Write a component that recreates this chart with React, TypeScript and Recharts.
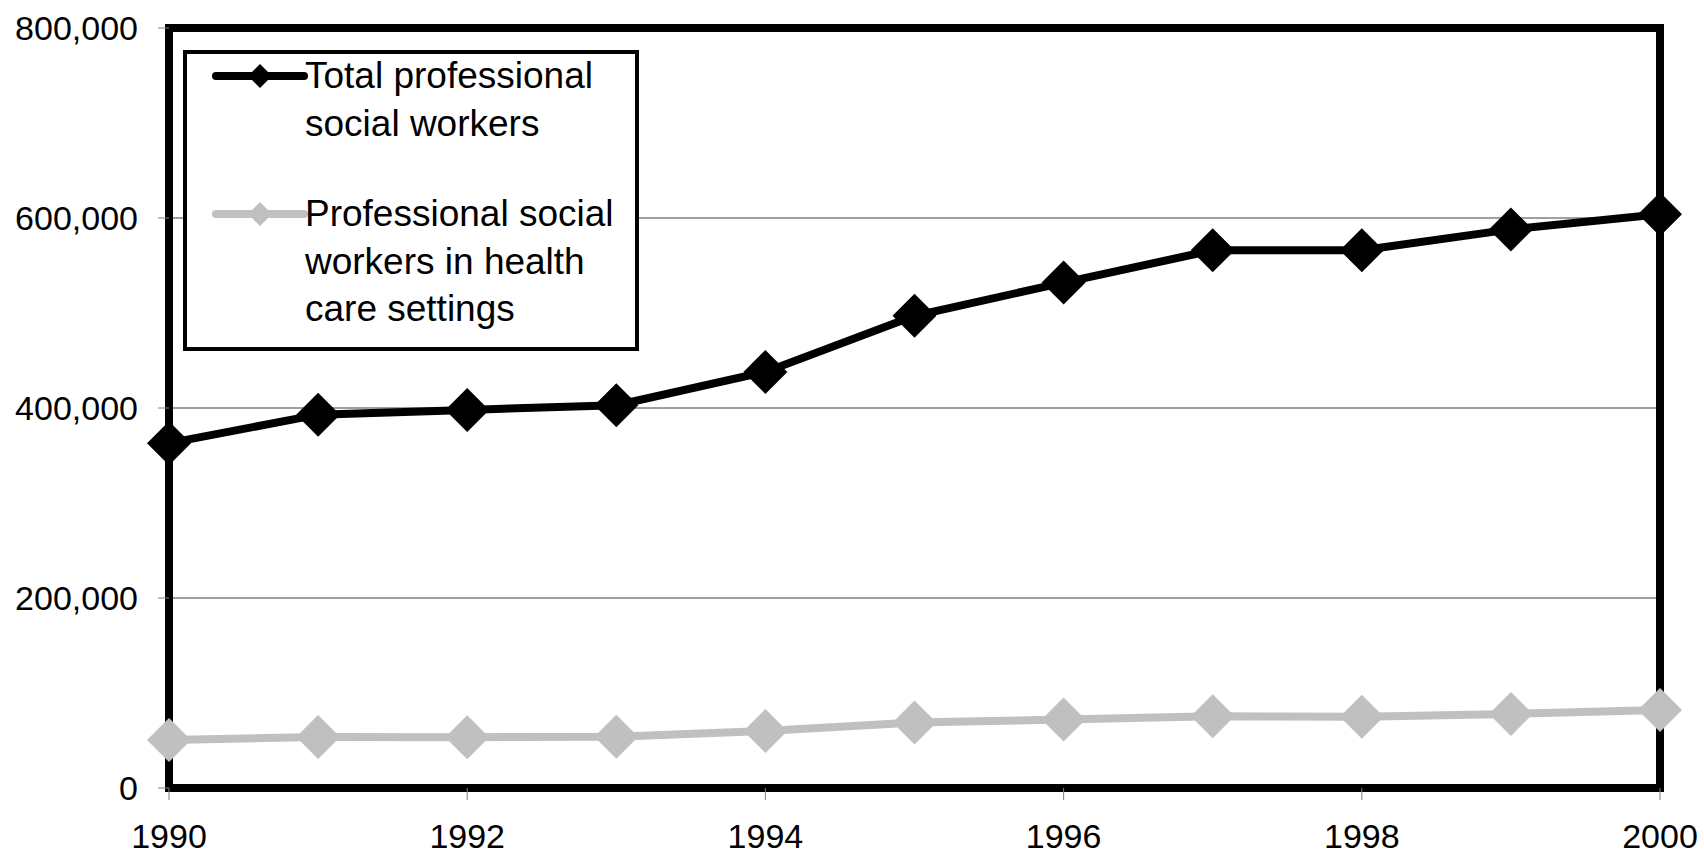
import React from 'react';
import {
    LineChart,
    Line,
    XAxis,
    YAxis,
    CartesianGrid,
    ReferenceArea
} from 'recharts';

const years = [1990, 1991, 1992, 1993, 1994, 1995, 1996, 1997, 1998, 1999, 2000];
const totalWorkers = [363000, 393000, 398000, 403000, 438000, 497000, 532000, 566000, 566000, 588000, 604000];
const healthCareWorkers = [50500, 53700, 53500, 54000, 60000, 69000, 72000, 75500, 75000, 78000, 82000];

const xTicks = [1990, 1992, 1994, 1996, 1998, 2000];
const yTicks = [0, 200000, 400000, 600000, 800000];

const totalLabel = ['Total professional', 'social workers'];
const healthLabel = ['Professional social', 'workers in health', 'care settings'];

const FONT = '"Liberation Sans", Arial, sans-serif';
const BLACK = '#000000';
const GRAY = '#C0C0C0';

const data = years.map((year, i) => ({
    year,
    total: totalWorkers[i],
    health: healthCareWorkers[i]
}));

// filled diamond marker, the same shape is reused in the legend
const diamond = (cx: number, cy: number, r: number) =>
    `${cx},${cy - r} ${cx + r},${cy} ${cx},${cy + r} ${cx - r},${cy}`;

const makeDot = (color: string) => (props: any) => {
    const { cx, cy, index } = props;
    if (cx == null || cy == null) return <g key={`e-${index}`} />;
    return <polygon key={`d-${index}`} points={diamond(cx, cy, 22)} fill={color} />;
};

const LegendMarker: React.FC<{ color: string }> = ({ color }) => (
    <svg width={96} height={30} style={{ position: 'absolute', left: 25, top: -15 }}>
        <line x1={4} y1={15} x2={92} y2={15} stroke={color} strokeWidth={8} strokeLinecap="round" />
        <polygon points={diamond(48, 15, 12)} fill={color} />
    </svg>
);

const ChartLegend: React.FC = () => {
    const lineHeight = 47.5;
    const rows: { text: string; marker?: string }[] = [
        { text: totalLabel[0], marker: BLACK },
        { text: totalLabel[1] },
        { text: '' },
        { text: healthLabel[0], marker: GRAY },
        { text: healthLabel[1] },
        { text: healthLabel[2] }
    ];
    return (
        <div
            style={{
                position: 'absolute',
                left: 183,
                top: 50,
                width: 448,
                height: 293,
                border: '4px solid #000',
                background: '#fff',
                fontFamily: FONT,
                fontSize: 37,
                color: '#000'
            }}
        >
            {rows.map((row, i) => {
                const center = 22 + i * lineHeight - (i >= 3 ? 4.5 : 0);
                return (
                    <div key={i} style={{ position: 'absolute', left: 0, top: center, width: '100%' }}>
                        {row.marker && <LegendMarker color={row.marker} />}
                        <span
                            style={{
                                position: 'absolute',
                                left: 118,
                                top: -lineHeight / 2,
                                lineHeight: `${lineHeight}px`,
                                whiteSpace: 'nowrap'
                            }}
                        >
                            {row.text}
                        </span>
                    </div>
                );
            })}
        </div>
    );
};

const App: React.FC = () => {
    const tickStyle = { fill: '#000', fontSize: 34, fontFamily: FONT };
    return (
        <div style={{ position: 'absolute', left: 0, top: 0, width: 1704, height: 856, background: '#fff' }}>
            <LineChart
                width={1704}
                height={856}
                data={data}
                margin={{ top: 28, right: 44, bottom: 0, left: 0 }}
            >
                <CartesianGrid vertical={false} stroke="#404040" strokeWidth={1} />
                <ReferenceArea
                    x1={1990}
                    x2={2000}
                    y1={0}
                    y2={800000}
                    fill="none"
                    fillOpacity={0}
                    stroke={BLACK}
                    strokeWidth={8}
                />
                <XAxis
                    dataKey="year"
                    type="number"
                    domain={[1990, 2000]}
                    ticks={xTicks}
                    height={68}
                    axisLine={false}
                    tickLine={{ stroke: '#808080' }}
                    tickSize={12}
                    tickMargin={24}
                    tick={tickStyle}
                    interval={0}
                />
                <YAxis
                    type="number"
                    domain={[0, 800000]}
                    ticks={yTicks}
                    width={169}
                    axisLine={false}
                    tickLine={{ stroke: '#808080' }}
                    tickSize={11}
                    tickMargin={20}
                    tick={tickStyle}
                    interval={0}
                    tickFormatter={(v: number) => v.toLocaleString('en-US')}
                />
                <Line
                    dataKey="health"
                    type="linear"
                    stroke={GRAY}
                    strokeWidth={8}
                    dot={makeDot(GRAY)}
                    activeDot={false}
                    isAnimationActive={false}
                />
                <Line
                    dataKey="total"
                    type="linear"
                    stroke={BLACK}
                    strokeWidth={8}
                    dot={makeDot(BLACK)}
                    activeDot={false}
                    isAnimationActive={false}
                />
            </LineChart>
            <ChartLegend />
        </div>
    );
};

export default App;
